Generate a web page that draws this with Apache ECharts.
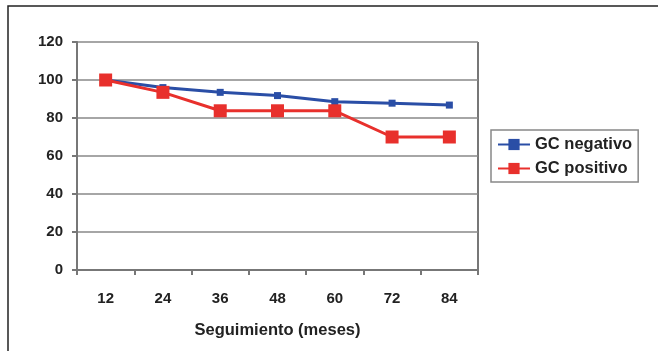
<!DOCTYPE html>
<html><head><meta charset="utf-8">
<script src="https://cdn.jsdelivr.net/npm/echarts@6/dist/echarts.min.js"></script>
<style>html,body{margin:0;padding:0;background:#fff}#c{width:658px;height:351px}</style>
</head><body><div id="c"></div>
<script>
var categories = ['12','24','36','48','60','72','84'];
var gcNegativo = [100, 96, 93.5, 91.8, 88.6, 87.8, 86.8];
var gcPositivo = [100, 93.5, 83.8, 83.8, 83.8, 70, 70];
var seriesNames = ['GC negativo', 'GC positivo'];
var xAxisTitle = 'Seguimiento (meses)';

var chart = echarts.init(document.getElementById('c'));
var font = 'Liberation Sans, Arial, sans-serif';
chart.setOption({
  animation: false,
  graphic: [
    {type:'rect', shape:{x:8,y:6,width:800,height:500}, style:{fill:'none', stroke:'#222', lineWidth:1.5}, z:-1},
    {type:'line', shape:{x1:478,y1:42,x2:478,y2:275}, style:{stroke:'#777', lineWidth:2}}
  ],
  grid: {left:77, right:180, top:42, bottom:81},
  legend: {
    orient:'vertical', left:491, top:130, padding:[6,6,5,6], itemGap:7,
    borderColor:'#888', borderWidth:1.5, itemWidth:32, itemHeight:14,
    textStyle:{fontFamily:font, fontWeight:'bold', fontSize:16.5, color:'#222'},
    data: seriesNames
  },
  xAxis: {
    type:'category', data:categories, boundaryGap:true,
    name: xAxisTitle, nameLocation:'middle', nameGap:52,
    nameTextStyle:{fontFamily:font, fontWeight:'bold', fontSize:16.5, color:'#222'},
    axisLine:{lineStyle:{color:'#777', width:2}},
    axisTick:{show:true, alignWithLabel:false, length:5, lineStyle:{color:'#777', width:2}},
    axisLabel:{fontFamily:font, fontWeight:'bold', fontSize:15, color:'#222', margin:21}
  },
  yAxis: {
    type:'value', min:0, max:120, interval:20,
    axisLine:{show:true, lineStyle:{color:'#777', width:2}},
    axisTick:{show:true, length:5, lineStyle:{color:'#777', width:2}},
    axisLabel:{fontFamily:font, fontWeight:'bold', fontSize:15, color:'#222', margin:14},
    splitLine:{lineStyle:{color:'#888', width:1.5}}
  },
  series: [
    {name:seriesNames[0], type:'line', data:gcNegativo, symbol:'rect', symbolSize:7,
     lineStyle:{color:'#2a4ea6', width:3}, itemStyle:{color:'#2a4ea6'}, z:2},
    {name:seriesNames[1], type:'line', data:gcPositivo, symbol:'rect', symbolSize:13,
     lineStyle:{color:'#e8302c', width:3}, itemStyle:{color:'#e8302c'}, z:3}
  ]
});
</script></body></html>
